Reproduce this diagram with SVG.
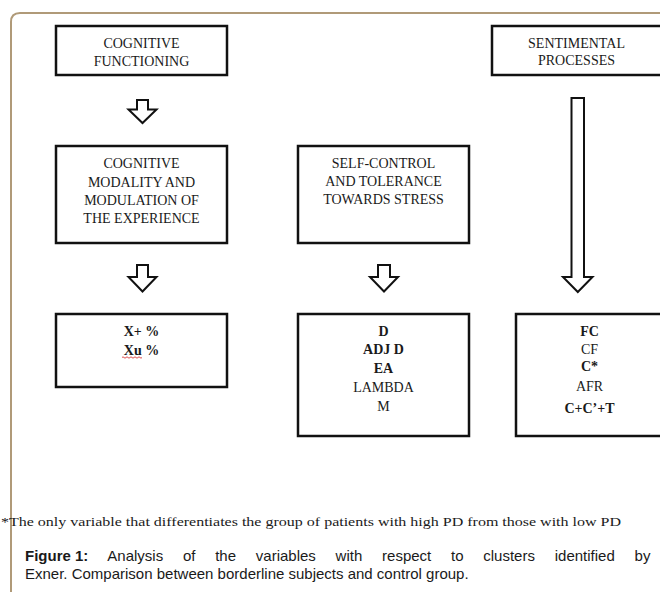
<svg xmlns="http://www.w3.org/2000/svg" width="660" height="592" viewBox="0 0 660 592">
<style>
.box{fill:#fff;stroke:#111;stroke-width:2.5}
.arr{fill:#fff;stroke:#111;stroke-width:2;stroke-linejoin:miter}
.t{font-family:"Liberation Serif","Times New Roman",serif;font-size:14px;fill:#1a1a1a;text-anchor:middle}
.b{font-weight:bold}
.fn{font-family:"Liberation Serif","Times New Roman",serif;font-size:12.5px;fill:#1a1a1a}
.cap{font-family:"Liberation Sans",Arial,sans-serif;font-size:15px;fill:#1a1a1a}
</style>
<rect width="660" height="592" fill="#fff"/>
<path d="M11,600 L11,22 Q11,13 20,13 L670,13" fill="none" stroke="#b09a78" stroke-width="2"/>

<g id="node-cognitive-functioning">
<rect class="box" x="56" y="26" width="171" height="49"/>
<text class="t" x="141.5" y="48.3">COGNITIVE</text>
<text class="t" x="141.5" y="66">FUNCTIONING</text>
</g>
<g id="node-sentimental-processes">
<rect class="box" x="492" y="26" width="175" height="49"/>
<text class="t" x="576.5" y="47.7">SENTIMENTAL</text>
<text class="t" x="576.5" y="65">PROCESSES</text>
</g>
<g id="node-cognitive-modality">
<rect class="box" x="56" y="146" width="171" height="97"/>
<text class="t" x="141.5" y="168.4">COGNITIVE</text>
<text class="t" x="141.5" y="186.7">MODALITY AND</text>
<text class="t" x="141.5" y="205">MODULATION OF</text>
<text class="t" x="141.5" y="223.3">THE EXPERIENCE</text>
</g>
<g id="node-self-control">
<rect class="box" x="298" y="146" width="171" height="97"/>
<text class="t" x="383.5" y="167.5">SELF-CONTROL</text>
<text class="t" x="383.5" y="185.8">AND TOLERANCE</text>
<text class="t" x="383.5" y="204.1">TOWARDS STRESS</text>
</g>
<g id="node-x">
<rect class="box" x="56" y="314" width="171" height="73"/>
<text class="t b" x="141.5" y="336">X+ %</text>
<text class="t b" x="141.5" y="355.3">Xu %</text>
<path d="M122,357.5 q1,-1.4 2,0 t2,0 t2,0 t2,0 t2,0 t2,0 t2,0 t2,0 t2,0 t2,0" fill="none" stroke="#d42020" stroke-width="0.8"/>
</g>
<g id="node-d">
<rect class="box" x="298" y="314" width="171" height="122"/>
<text class="t b" x="383.5" y="335.5">D</text>
<text class="t b" x="383.5" y="354">ADJ D</text>
<text class="t b" x="383.5" y="372.5">EA</text>
<text class="t" x="383.5" y="391.5">LAMBDA</text>
<text class="t" x="383.5" y="411">M</text>
</g>
<g id="node-fc">
<rect class="box" x="516" y="314" width="150" height="122"/>
<text class="t b" x="589.5" y="335.5">FC</text>
<text class="t" x="589.5" y="353.8">CF</text>
<text class="t b" x="589.5" y="371">C*</text>
<text class="t" x="589.5" y="391">AFR</text>
<text class="t b" x="589.5" y="413">C+C’+T</text>
</g>

<g id="connectors">
<path class="arr" d="M137,100 H148 V109.5 H156.5 L142.5,123 L128.5,109.5 H137 Z"/>
<path class="arr" d="M137,265 H148 V277 H156.5 L142.5,291.5 L128.5,277 H137 Z"/>
<path class="arr" d="M378,265 H390 V277 H398 L384,291.5 L370,277 H378 Z"/>
<path class="arr" d="M571.5,98 H584 V277 H592.5 L577.8,292 L563,277 H571.5 Z"/>
</g>

<text class="fn" x="1" y="526" textLength="620" lengthAdjust="spacingAndGlyphs">*The only variable that differentiates the group of patients with high PD from those with low PD</text>
<text class="cap" x="25" y="561" word-spacing="15.6"><tspan font-weight="bold" word-spacing="0">Figure 1:</tspan> Analysis of the variables with respect to clusters identified by</text>
<text class="cap" x="25" y="579">Exner. Comparison between borderline subjects and control group.</text>
</svg>
